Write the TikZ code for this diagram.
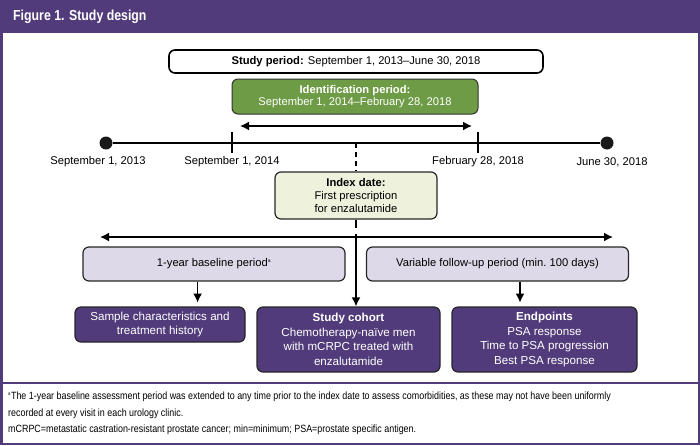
\documentclass[tikz,border=0pt]{standalone}
\usepackage{fontspec}
\setmainfont{Liberation Sans}
\newfontfamily\narrowfont[FakeStretch=0.85]{Liberation Sans}
\usetikzlibrary{arrows.meta,positioning,calc}
\definecolor{plum}{HTML}{523B7A}
\definecolor{leaf}{HTML}{6E9B45}
\definecolor{pale}{HTML}{EEF2DD}
\definecolor{lilac}{HTML}{DDD9E8}
\tikzset{sp/.style={draw=black,line width=1.6pt,fill=white,rounded corners=6pt,minimum width=374,minimum height=23},
 idp/.style={draw=black!80,line width=1pt,fill=leaf,text=white,rounded corners=6pt,align=center,minimum width=246,minimum height=35,font=\fontsize{11.2}{12}\selectfont},
 ix/.style={draw=black!85,line width=1.2pt,fill=pale,rounded corners=6pt,align=center,minimum width=162,minimum height=47,font=\fontsize{11.2}{13}\selectfont},
 lav/.style={draw=black!85,line width=1.2pt,fill=lilac,rounded corners=6pt,minimum width=262,minimum height=34},
 pu/.style={draw=black!85,line width=1.2pt,fill=plum,text=white,rounded corners=6pt,align=center,font=\fontsize{11.6}{14.5}\selectfont},
 dot/.style={circle,fill=black!90,inner sep=0pt,minimum size=13},
 flow/.style={-{Latex[length=9pt,width=9pt]},line width=1.6pt},
 both/.style={{Latex[length=9pt,width=9pt]}-{Latex[length=9pt,width=9pt]},line width=1.6pt},
 wire/.style={line width=1.6pt},txt/.style={align=center,font=\fontsize{11.2}{13}\selectfont},
 fn/.style={anchor=west,inner sep=0pt,font=\narrowfont\fontsize{10.5}{12}\selectfont}}
\begin{document}
\begin{tikzpicture}[x=1pt,y=-1pt,font=\fontsize{11.2}{13}\selectfont]
\useasboundingbox (0,0) rectangle (700,445);
% frame and title bar
\fill[plum] (0,0) rectangle (700,33);
\draw[plum,line width=2.5pt] (1.25,1.25) rectangle (698.75,443.75);
\draw[plum,line width=1.5pt] (1,383) -- (699,383);
\node[anchor=west,text=white,inner sep=0pt,font=\narrowfont\bfseries\fontsize{14.5}{16}\selectfont] (ttl) at (13,17) {Figure 1. Study design};
% periods
\node[sp] (stp) at (356,61.5){\textbf{Study period:} September 1, 2013--June 30, 2018};
\node[idp] (idn) at (355,96.5){\textbf{Identification period:}\\September 1, 2014--February 28, 2018};
\coordinate (il) at (240,126);\coordinate (ir) at (472,126);
\draw[both](il)--(ir);
% timeline
\node[dot] (d13) at (106,143){};\node[dot] (d18) at (607,143){};
\draw[wire](d13)--(d18);
\foreach \x/\n in {232/t14,478/t18}{
 \coordinate (\n) at (\x,143);
 \draw[wire]($(\n)+(0,-11)$)--($(\n)+(0,10)$);}
\node[txt] (l13) at (98,162){September 1, 2013};
\node[txt] (l14) at (232,162){September 1, 2014};
\node[txt] (l18a) at (478,162){February 28, 2018};
\node[txt] (l18b) at (612,162){June 30, 2018};
% index date
\coordinate (tix) at (356,143);
\node[ix] (ix) at (356,195.5){\textbf{Index date:}\\First prescription\\for enzalutamide};
\draw[wire,dash pattern=on 5pt off 4pt](tix)--(ix.north);
\coordinate (bl) at (100,237);\coordinate (br) at (613,237);
\draw[both](bl)--(br);
\coordinate (sx) at (356,237);
\draw[wire,dash pattern=on 8pt off 6pt](ix.south)--(sx);
% follow-up periods
\node[lav] (base) at (214,264){1-year baseline period\textsuperscript{\fontsize{5}{5}\selectfont a}};
\node[lav] (fol) at (497.5,264){Variable follow-up period (min.\ 100 days)};
% outcomes
\node[pu,minimum width=170,minimum height=35] (smp) at (160,324.5){Sample characteristics and\\treatment history};
\node[pu,minimum width=183,minimum height=65] (coh) at (348.5,339.5){\textbf{Study cohort}\\Chemotherapy-na\"ive men\\with mCRPC treated with\\enzalutamide};
\node[pu,minimum width=185,minimum height=65] (ep) at (544.5,339.5){\textbf{Endpoints}\\PSA response\\Time to PSA progression\\Best PSA response};
\draw[flow](sx)--(sx|-coh.north);
\draw[flow](base.south-|smp.north east)++(-48,0)--++(0,21);
\draw[flow]($(fol.south)+(22.5,0)$)--++(0,21);
% footnotes
\node[fn] (fn1) at (8,397){\textsuperscript{\fontsize{5}{5}\selectfont a}The 1-year baseline assessment period was extended to any time prior to the index date to assess comorbidities, as these may not have been uniformly};
\node[fn] (fn2) at (8,413.5){recorded at every visit in each urology clinic.};
\node[fn] (fn3) at (8,430){mCRPC=metastatic castration-resistant prostate cancer; min=minimum; PSA=prostate specific antigen.};
\end{tikzpicture}
\end{document}
